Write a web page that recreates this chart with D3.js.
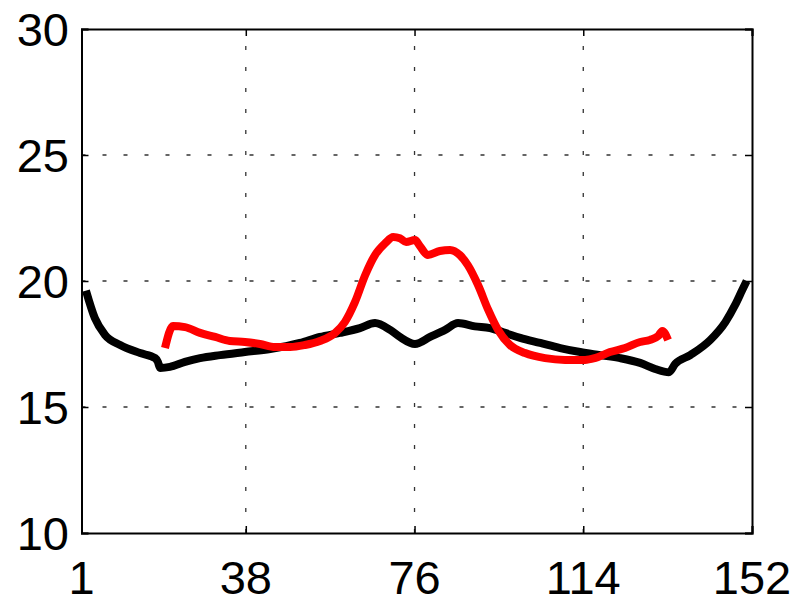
<!DOCTYPE html>
<html>
<head>
<meta charset="utf-8">
<script src="https://cdn.jsdelivr.net/npm/d3@7"></script>
<style>
  body { margin: 0; background: #fff; }
  svg { display: block; }
  .tick-label { font-family: "Liberation Sans", Arial, sans-serif; font-size: 47px; fill: #000; }
</style>
</head>
<body>
<div id="chart"></div>
<script>
// Data
const blackX = [2, 4, 6.3, 9.7, 14.2, 17.6, 18.2, 18.7, 20.9, 24.3, 27.7, 32.2, 37.8, 43.5, 50.2, 54.7, 59.2, 63.7, 67.1,
  70.5, 72.7, 76.1, 79.5, 82.9, 85.8, 89.6, 93, 96.4, 99.8, 104.3, 108.8, 113.3, 117.8, 122.3, 126.8, 130.2, 133.3,
  134.7, 138.1, 142.6, 146, 148.2, 149.8, 150.8];
const blackY = [19.62, 18.53, 17.86, 17.46, 17.14, 16.94, 16.79, 16.55, 16.59, 16.79, 16.94, 17.06, 17.18, 17.3, 17.54,
  17.78, 17.94, 18.13, 18.33, 18.06, 17.78, 17.5, 17.78, 18.06, 18.33, 18.2, 18.13, 17.94, 17.74, 17.54, 17.34, 17.18,
  17.06, 16.94, 16.75, 16.51, 16.38, 16.71, 17.06, 17.66, 18.37, 19.05, 19.64, 20.0];

const redX = [19.8, 21.6, 24.3, 27.7, 31.1, 34.4, 37.8, 41.2, 44.6, 48, 51.3, 54.7, 58.1, 60.3, 62.6, 64.9, 67.1, 69.4,
  71.2, 72.7, 74.1, 76.1, 77.2, 79, 81.7, 84, 86.2, 88, 90.3, 92.6, 94.8, 97.5, 100.9, 105.4, 109.9, 114.4, 116.6, 120,
  123.4, 126.8, 129, 130.9, 131.8, 133.1];
const redY = [17.34, 18.21, 18.17, 17.94, 17.78, 17.62, 17.58, 17.5, 17.38, 17.38, 17.46, 17.62, 17.94, 18.37, 19.17,
  20.24, 21.03, 21.5, 21.75, 21.7, 21.55, 21.63, 21.39, 21.03, 21.19, 21.23, 21.03, 20.63, 19.84, 18.85, 18.06, 17.46,
  17.14, 16.94, 16.87, 16.87, 16.94, 17.18, 17.34, 17.58, 17.66, 17.82, 18.02, 17.66];

const xTicks = [1, 38, 76, 114, 152];
const yTicks = [10, 15, 20, 25, 30];

const width = 801, height = 599;
const plotLeft = 81.5, plotRight = 752, plotTop = 29, plotBottom = 533;

const svg = d3.select("#chart").append("svg")
  .attr("width", width)
  .attr("height", height);

const x = d3.scaleLinear().domain([1, 152]).range([plotLeft, plotRight]);
const y = d3.scaleLinear().domain([10, 30]).range([plotBottom, plotTop]);

// grid
const grid = svg.append("g")
  .attr("stroke", "#333")
  .attr("stroke-width", 1.3)
  .attr("stroke-dasharray", "4,17");

grid.selectAll(".gx")
  .data(xTicks.slice(1, -1)).enter()
  .append("line")
  .attr("x1", d => x(d)).attr("x2", d => x(d))
  .attr("y1", plotBottom).attr("y2", plotTop);

grid.selectAll(".gy")
  .data(yTicks.slice(1, -1)).enter()
  .append("line")
  .attr("y1", d => y(d)).attr("y2", d => y(d))
  .attr("x1", plotLeft).attr("x2", plotRight);

// lines
const line = d3.line()
  .x(d => x(d[0]))
  .y(d => y(d[1]))
  .curve(d3.curveMonotoneX);

svg.append("path")
  .datum(d3.zip(blackX, blackY))
  .attr("fill", "none")
  .attr("stroke", "#000")
  .attr("stroke-width", 8)
  .attr("stroke-linejoin", "round")
  .attr("d", line);

svg.append("path")
  .datum(d3.zip(redX, redY))
  .attr("fill", "none")
  .attr("stroke", "#ff0000")
  .attr("stroke-width", 8)
  .attr("stroke-linejoin", "round")
  .attr("d", line);

// axes box with inward ticks
const tickLen = 7;
svg.append("g").attr("transform", `translate(0,${plotBottom})`)
  .call(d3.axisBottom(x).tickValues(xTicks).tickSize(-tickLen).tickFormat(""));
svg.append("g").attr("transform", `translate(0,${plotTop})`)
  .call(d3.axisTop(x).tickValues(xTicks).tickSize(-tickLen).tickFormat(""));
svg.append("g").attr("transform", `translate(${plotLeft},0)`)
  .call(d3.axisLeft(y).tickValues(yTicks).tickSize(-tickLen).tickFormat(""));
svg.append("g").attr("transform", `translate(${plotRight},0)`)
  .call(d3.axisRight(y).tickValues(yTicks).tickSize(-tickLen).tickFormat(""));

svg.selectAll(".domain").attr("stroke", "#000").attr("stroke-width", 2);
svg.selectAll(".tick line").attr("stroke", "#000").attr("stroke-width", 1.5);

// tick labels
svg.selectAll(".xlab")
  .data(xTicks).enter()
  .append("text")
  .attr("class", "tick-label")
  .attr("x", d => x(d))
  .attr("y", 594)
  .attr("text-anchor", "middle")
  .text(d => d);

svg.selectAll(".ylab")
  .data(yTicks).enter()
  .append("text")
  .attr("class", "tick-label")
  .attr("x", 69)
  .attr("y", d => y(d) + 17)
  .attr("text-anchor", "end")
  .text(d => d);
</script>
</body>
</html>
